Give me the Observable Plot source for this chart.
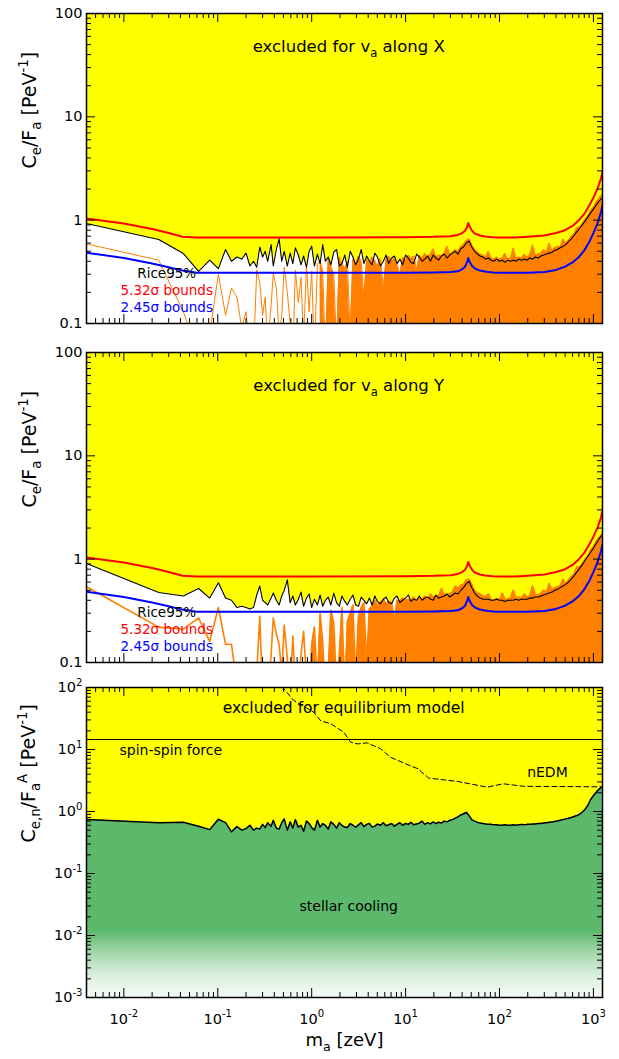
<!DOCTYPE html>
<html><head><meta charset="utf-8">
<script src="https://cdn.jsdelivr.net/npm/d3@7"></script>
<script src="https://cdn.jsdelivr.net/npm/@observablehq/plot@0.6"></script>
<style>
body{margin:0;background:#fff;}
#chart svg{display:block;}
</style></head><body><div id="chart"></div>
<script>
// ---------------- data ----------------
const mGrid = [0.004,0.0235,0.043,0.0625,0.082,0.1015,0.121,0.14,0.16,0.18,0.2,0.22,0.24,0.26,0.28,0.3,
 0.32,0.34,0.37,0.39,0.42,0.45,0.48,0.51,0.55,0.59,
 0.63,0.67,0.72,0.77,0.82,0.88,0.94,1.0,1.07,1.15,
 1.23,1.31,1.4,1.5,1.6,1.72,1.84,1.97,2.1,2.25,
 2.4,2.57,2.75,2.94,3.15,3.37,3.6,3.85,4.12,4.4,
 4.7,5.0,5.4,5.8,6.2,6.6,7.1,7.6,8.1,8.7,
 9.3,10,10.7,11.4,12.2,13.1,14,15,16,17.2,
 18.4,19.7,21,22.5,24.1,25.8,27.6,29.5,31.6,33.8,
 36.2,38.7,41.4,44.3,47.4,50.7,54.3,58.1,62.1,66.5,
 71.1,76.1,81.4,87.1,93.2,100,107,114,122,131,
 140,150,160,172,184,197,210,225,241,258,
 276,295,316,338,362,387,414,443,474,507,
 543,581,621,665,711,761,814,871,932,1000,
 1070,1150,1230,1250];

// panel X : Rice95% limit and data (orange)
const riceX = [0.93,0.65,0.475,0.32,0.41,0.34,0.52,0.40,0.44,0.42,0.48,0.36,0.40,0.35,0.55,0.44,
 0.50,0.40,0.58,0.36,0.52,0.66,0.40,0.50,0.36,0.48,
 0.38,0.54,0.46,0.37,0.45,0.35,0.50,0.56,0.36,0.47,
 0.38,0.58,0.40,0.44,0.37,0.49,0.52,0.36,0.38,0.46,
 0.35,0.50,0.44,0.37,0.42,0.52,0.38,0.45,0.40,0.37,
 0.48,0.44,0.36,0.40,0.46,0.38,0.43,0.45,0.38,0.42,
 0.37,0.46,0.43,0.39,0.38,0.47,0.44,0.40,0.42,0.45,
 0.40,0.46,0.43,0.41,0.45,0.47,0.43,0.46,0.48,0.50,
 0.47,0.53,0.55,0.60,0.63,0.55,0.50,0.47,0.45,0.44,
 0.42,0.43,0.41,0.40,0.42,0.40,0.41,0.39,0.41,0.40,
 0.41,0.40,0.42,0.41,0.42,0.41,0.43,0.42,0.44,0.43,
 0.45,0.46,0.47,0.48,0.49,0.51,0.52,0.54,0.56,0.58,
 0.62,0.66,0.71,0.77,0.83,0.90,0.98,1.07,1.17,1.28,
 1.40,1.53,1.63,1.66];
const dataX = [0.59,0.41,0.13,0.05,0.08,0.30,0.12,0.22,0.18,0.09,0.13,0.05,0.05,0.33,0.25,0.12,
 0.18,0.06,0.15,0.31,0.22,0.08,0.12,0.35,0.20,0.10,
 0.05,0.33,0.16,0.28,0.07,0.36,0.13,0.32,0.05,0.38,
 0.40,0.33,0.05,0.42,0.36,0.30,0.06,0.44,0.38,0.34,
 0.40,0.08,0.42,0.37,0.45,0.40,0.18,0.42,0.39,0.44,
 0.41,0.36,0.43,0.22,0.42,0.45,0.40,0.43,0.38,0.30,
 0.44,0.41,0.46,0.42,0.45,0.33,0.46,0.43,0.48,0.44,
 0.47,0.53,0.44,0.46,0.45,0.48,0.56,0.47,0.49,0.52,
 0.50,0.56,0.58,0.64,0.66,0.58,0.52,0.50,0.47,0.46,
 0.44,0.50,0.43,0.42,0.44,0.42,0.43,0.48,0.42,0.43,
 0.54,0.43,0.44,0.43,0.47,0.44,0.46,0.58,0.46,0.47,
 0.48,0.52,0.49,0.60,0.51,0.54,0.56,0.55,0.66,0.60,
 0.64,0.70,0.74,0.85,0.86,0.93,1.02,1.10,1.25,1.34,
 1.50,1.64,1.76,1.76];

// panel Y : Rice95% limit and data (orange)
const riceY = [0.91,0.475,0.44,0.52,0.42,0.59,0.42,0.40,0.34,0.35,0.34,0.33,0.34,0.45,0.55,0.40,
 0.38,0.36,0.42,0.47,0.40,0.36,0.44,0.50,0.63,0.38,
 0.44,0.36,0.41,0.48,0.35,0.42,0.46,0.34,0.41,0.36,
 0.45,0.35,0.40,0.43,0.36,0.47,0.38,0.35,0.44,0.39,
 0.36,0.41,0.45,0.36,0.35,0.43,0.40,0.37,0.42,0.36,
 0.44,0.39,0.37,0.41,0.43,0.38,0.37,0.42,0.44,0.38,
 0.40,0.42,0.45,0.39,0.41,0.40,0.44,0.40,0.42,0.43,
 0.41,0.40,0.45,0.42,0.43,0.44,0.46,0.43,0.45,0.47,
 0.46,0.50,0.53,0.58,0.61,0.53,0.47,0.44,0.42,0.41,
 0.41,0.41,0.40,0.40,0.41,0.40,0.40,0.39,0.40,0.40,
 0.40,0.41,0.40,0.41,0.41,0.41,0.42,0.42,0.43,0.43,
 0.44,0.45,0.46,0.47,0.48,0.50,0.51,0.53,0.55,0.57,
 0.60,0.64,0.69,0.75,0.81,0.88,0.97,1.06,1.16,1.28,
 1.42,1.57,1.70,1.74];
const dataY = [0.54,0.22,0.21,0.27,0.16,0.34,0.15,0.15,0.06,0.05,0.06,0.05,0.05,0.08,0.28,0.05,
 0.06,0.05,0.12,0.27,0.19,0.15,0.08,0.23,0.11,0.05,
 0.18,0.06,0.05,0.12,0.20,0.07,0.05,0.15,0.22,0.06,
 0.30,0.16,0.05,0.08,0.32,0.24,0.06,0.12,0.34,0.05,
 0.25,0.30,0.36,0.07,0.28,0.34,0.38,0.10,0.33,0.35,
 0.40,0.36,0.38,0.41,0.37,0.39,0.38,0.25,0.40,0.39,
 0.42,0.40,0.41,0.40,0.43,0.39,0.42,0.41,0.44,0.40,
 0.46,0.43,0.44,0.44,0.52,0.45,0.46,0.46,0.48,0.55,
 0.52,0.56,0.57,0.63,0.64,0.57,0.50,0.47,0.46,0.44,
 0.43,0.46,0.41,0.40,0.42,0.40,0.47,0.41,0.41,0.42,
 0.50,0.42,0.43,0.42,0.46,0.43,0.44,0.55,0.45,0.45,
 0.47,0.50,0.48,0.58,0.50,0.53,0.54,0.55,0.64,0.58,
 0.63,0.68,0.72,0.84,0.84,0.91,1.00,1.08,1.22,1.32,
 1.48,1.62,1.74,1.76];

// panel 3 : equilibrium model limit
const equilib = [0.74,0.66,0.67,0.58,0.51,0.75,0.66,0.47,0.57,0.50,0.53,0.60,0.50,0.54,0.52,0.62,
 0.55,0.66,0.58,0.72,0.54,0.52,0.66,0.76,0.50,0.68,
 0.54,0.74,0.56,0.60,0.48,0.70,0.64,0.55,0.50,0.72,
 0.56,0.64,0.60,0.52,0.68,0.62,0.54,0.66,0.60,0.56,
 0.55,0.64,0.60,0.56,0.61,0.66,0.57,0.62,0.64,0.56,
 0.58,0.63,0.60,0.66,0.59,0.61,0.64,0.58,0.62,0.66,
 0.60,0.64,0.62,0.67,0.61,0.63,0.65,0.70,0.62,0.66,
 0.63,0.68,0.64,0.67,0.65,0.70,0.68,0.72,0.74,0.78,
 0.82,0.88,0.92,0.97,0.86,0.74,0.70,0.67,0.65,0.64,
 0.63,0.62,0.62,0.61,0.61,0.60,0.60,0.61,0.60,0.60,
 0.61,0.60,0.61,0.62,0.61,0.62,0.62,0.63,0.63,0.64,
 0.64,0.65,0.66,0.67,0.68,0.69,0.70,0.72,0.74,0.76,
 0.78,0.80,0.83,0.86,0.90,0.98,1.08,1.25,1.55,1.80,
 2.05,2.30,2.48,2.50];

// 5.32 sigma and 2.45 sigma bounds
const boundM   = [0.004,0.01,0.02,0.03,0.042,0.06,0.1,1,10,20,30,36,40,43,45,46.5,48,51,55,62,70,85,100,150,200,300,400,500,600,700,800,900,1000,1100,1200,1250];
const bound532 = [1.04,0.93,0.82,0.75,0.69,0.68,0.68,0.68,0.685,0.69,0.70,0.72,0.75,0.79,0.85,0.94,0.87,0.79,0.74,0.71,0.695,0.685,0.68,0.68,0.69,0.71,0.75,0.80,0.88,1.0,1.15,1.38,1.65,2.0,2.5,2.95];
const bound245 = [0.485,0.43,0.38,0.35,0.325,0.31,0.31,0.31,0.31,0.312,0.315,0.32,0.335,0.355,0.39,0.43,0.395,0.36,0.34,0.325,0.318,0.312,0.31,0.31,0.31,0.315,0.33,0.355,0.39,0.44,0.51,0.61,0.75,0.92,1.18,1.39];

// nEDM (dashed) and spin-spin force
const nedmM = [0.48,0.64,1.05,1.25,1.6,2.2,2.6,3.1,3.9,5.4,6.9,11.1,13.5,17.6,36,74,110,180,1250];
const nedmC = [105,62,40,29,26,19,13.1,12.3,12.8,10.3,7.5,5.5,4.9,3.46,3.05,2.47,2.8,2.55,2.5];
const spinSpin = 14.5;

// tick labels
const xTickVals = [0.01,0.1,1,10,100,1000];
const xTickLabels = ["10^{-2}","10^{-1}","10^{0}","10^{1}","10^{2}","10^{3}"];
const yTickVals1 = [0.1,1,10,100];
const yTickLabels1 = ["0.1","1","10","100"];
const yTickVals3 = [0.001,0.01,0.1,1,10,100];
const yTickLabels3 = ["10^{-3}","10^{-2}","10^{-1}","10^{0}","10^{1}","10^{2}"];

// ---------------- build ----------------
const rows = mGrid.map((m, i) => ({m, riceX: riceX[i], dataX: dataX[i], riceY: riceY[i], dataY: dataY[i], eq: equilib[i]}));
const bounds = boundM.map((m, i) => ({m, b532: bound532[i], b245: bound245[i]}));
const nedm = nedmM.map((m, i) => ({m, c: nedmC[i]}));

const YELLOW = "#ffff00", ORANGE = "#ff8000", GREEN = "#5cb96b";
const XDOM = [0.004, 1250];
const W = 619 - 86 - 17, H = 310;

function minors(lo, hi) {
  const out = [];
  for (let e = -4; e <= 4; e++) for (let k = 2; k <= 9; k++) {
    const v = k * Math.pow(10, e);
    if (v > lo * 1.0001 && v < hi * 0.9999) out.push(v);
  }
  return out;
}
function frameTicks(yDom) {
  const L = 9, l = 5;
  const xMaj = xTickVals, xMin = minors(XDOM[0], XDOM[1]);
  const yMaj = [];
  for (let e = -4; e <= 4; e++) { const v = Math.pow(10, e); if (v >= yDom[0] && v <= yDom[1]) yMaj.push(v); }
  const yMin = minors(yDom[0], yDom[1]);
  const o = {stroke: "black", strokeWidth: 1};
  return [
    Plot.ruleX(xMaj, {x: d => d, insetTop: H - L, ...o}),
    Plot.ruleX(xMaj, {x: d => d, insetBottom: H - L, ...o}),
    Plot.ruleX(xMin, {x: d => d, insetTop: H - l, ...o}),
    Plot.ruleX(xMin, {x: d => d, insetBottom: H - l, ...o}),
    Plot.ruleY(yMaj, {y: d => d, insetRight: W - L, ...o}),
    Plot.ruleY(yMaj, {y: d => d, insetLeft: W - L, ...o}),
    Plot.ruleY(yMin, {y: d => d, insetRight: W - l, ...o}),
    Plot.ruleY(yMin, {y: d => d, insetLeft: W - l, ...o}),
    Plot.frame({stroke: "black", strokeWidth: 1.5})
  ];
}
function makePlot(height, mt, mb, yDom, marks) {
  return Plot.plot({
    width: 619, height, marginLeft: 86, marginRight: 17, marginTop: mt, marginBottom: mb,
    x: {type: "log", domain: XDOM, axis: null},
    y: {type: "log", domain: yDom, axis: null},
    style: {fontFamily: "DejaVu Sans, sans-serif", fontSize: "14px", background: "white", color: "black"},
    marks
  });
}
function limitPanel(height, mt, mb, riceKey, dataKey, denseFrom, orangeWidth, title) {
  const yDom = [0.1, 100];
  const dense = rows.filter(d => d.m >= denseFrom);
  return makePlot(height, mt, mb, yDom, [
    Plot.areaY(rows, {x: "m", y1: riceKey, y2: () => 100, fill: YELLOW, clip: true}),
    Plot.areaY(dense, {x: "m", y1: () => 0.01, y2: dataKey, fill: ORANGE, clip: true}),
    Plot.line(rows, {x: "m", y: dataKey, stroke: ORANGE, strokeWidth: orangeWidth, clip: true}),
    Plot.line(bounds, {x: "m", y: "b532", stroke: "#ff0000", strokeWidth: 2, clip: true}),
    Plot.line(bounds, {x: "m", y: "b245", stroke: "#0000ff", strokeWidth: 2, clip: true}),
    Plot.line(rows, {x: "m", y: riceKey, stroke: "black", strokeWidth: 1.1, clip: true}),
    ...frameTicks(yDom),
    Plot.text([title], {x: () => 2.48, y: () => 48, text: d => d, fontSize: 16.5, fill: "black"}),
    Plot.text(["Rice95%"], {x: () => 0.0286, y: () => 0.304, text: d => d, fontSize: 13.5, fill: "black"}),
    Plot.text(["5.32σ bounds"], {x: () => 0.0286, y: () => 0.209, text: d => d, fontSize: 13.5, fill: "#ff0000"}),
    Plot.text(["2.45σ bounds"], {x: () => 0.0286, y: () => 0.143, text: d => d, fontSize: 13.5, fill: "#0000ff"}),
    Plot.text(yTickVals1, {y: d => d, text: (d, i) => yTickLabels1[i], frameAnchor: "left", textAnchor: "end", dx: -4, fontSize: 14.5, fill: "black"}),
    Plot.text(["C_{e}/F_{a} [PeV^{-1}]"], {frameAnchor: "left", dx: -57, rotate: -90, text: d => d, fontSize: 19, fill: "black"})
  ]);
}

const p1 = limitPanel(338, 13, 15, "riceX", "dataX", 1.2, 1, "excluded for v_{a} along X");
const p2 = limitPanel(334, 14, 10, "riceY", "dataY", 0.95, 1.6, "excluded for v_{a} along Y");

const yDom3 = [0.001, 100];
const p3 = makePlot(387, 15, 62, yDom3, [
  Plot.areaY(rows, {x: "m", y1: "eq", y2: () => 100, fill: YELLOW, clip: true}),
  Plot.areaY(rows, {x: "m", y1: () => 0.001, y2: "eq", fill: GREEN, clip: true}),
  Plot.rect([0], {x1: () => XDOM[0], x2: () => XDOM[1], y1: () => 0.001, y2: () => 0.012, fill: "url(#fadeWhite)"}),
  Plot.ruleY([spinSpin], {stroke: "black", strokeWidth: 1.2}),
  Plot.line(nedm, {x: "m", y: "c", stroke: "black", strokeWidth: 1, strokeDasharray: "5,3", clip: true}),
  Plot.line(rows, {x: "m", y: "eq", stroke: "black", strokeWidth: 1.5, clip: true}),
  ...frameTicks(yDom3),
  Plot.text(["excluded for equilibrium model"], {x: () => 2.19, y: () => 46, text: d => d, fontSize: 15.5, fill: "black"}),
  Plot.text(["spin-spin force"], {x: () => 0.0316, y: () => 9.6, text: d => d, fontSize: 14, fill: "black"}),
  Plot.text(["nEDM"], {x: () => 324, y: () => 4.26, text: d => d, fontSize: 14, fill: "black"}),
  Plot.text(["stellar cooling"], {x: () => 2.48, y: () => 0.0296, text: d => d, fontSize: 14, fill: "black"}),
  Plot.text(yTickVals3, {y: d => d, text: (d, i) => yTickLabels3[i], frameAnchor: "left", textAnchor: "end", dx: -4, fontSize: 14.5, fill: "black"}),
  Plot.text(xTickVals, {x: d => d, text: (d, i) => xTickLabels[i], frameAnchor: "bottom", dy: 26, fontSize: 14.5, fill: "black"}),
  Plot.text(["C_{e,n}/F_{a}^{A} [PeV^{-1}]"], {frameAnchor: "left", dx: -58, rotate: -90, text: d => d, fontSize: 19, fill: "black"}),
  Plot.text(["m_{a} [zeV]"], {frameAnchor: "bottom", dy: 48, text: d => d, fontSize: 18, fill: "black"})
]);

// gradient for the fading stellar-cooling region
const defs = d3.select(p3).insert("defs", ":first-child");
const grad = defs.append("linearGradient").attr("id", "fadeWhite").attr("x1", 0).attr("y1", 0).attr("x2", 0).attr("y2", 1);
[[0, 0], [0.35, 0.45], [0.7, 0.8], [1, 0.93]].forEach(([o, a]) =>
  grad.append("stop").attr("offset", o).attr("stop-color", "#ffffff").attr("stop-opacity", a));

const chart = document.getElementById("chart");
[p1, p2, p3].forEach(p => chart.appendChild(p));

// sub/superscript rendering for texts with _{..} / ^{..}
function richify(root) {
  const ns = "http://www.w3.org/2000/svg";
  root.querySelectorAll("text").forEach(el => {
    const s = el.textContent;
    if (!/[_^]\{/.test(s)) return;
    const fs = parseFloat(getComputedStyle(el).fontSize) || 14;
    while (el.firstChild) el.removeChild(el.firstChild);
    const re = /([_^])\{([^}]*)\}/g;
    let last = 0, m, off = 0;
    const add = (txt, target, small) => {
      if (!txt) return;
      const t = document.createElementNS(ns, "tspan");
      const dy = target - off;
      if (Math.abs(dy) > 0.001) t.setAttribute("dy", dy.toFixed(2));
      if (small) t.setAttribute("font-size", (fs * 0.7).toFixed(2));
      t.textContent = txt;
      el.appendChild(t);
      off = target;
    };
    while ((m = re.exec(s))) {
      add(s.slice(last, m.index), 0, false);
      add(m[2], m[1] === "_" ? 0.3 * fs : -0.42 * fs, true);
      last = re.lastIndex;
    }
    add(s.slice(last), 0, false);
  });
}
richify(chart);
</script></body></html>
